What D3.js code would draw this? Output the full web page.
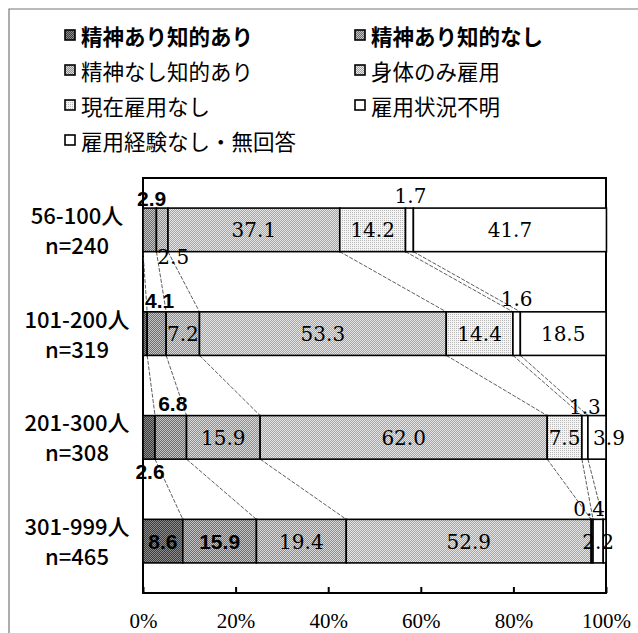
<!DOCTYPE html>
<html>
<head>
<meta charset="utf-8">
<script src="https://cdn.jsdelivr.net/npm/d3@7"></script>
<style>
  body { margin: 0; background: #fff; }
</style>
</head>
<body>
<svg id="chart" width="638" height="633"></svg>
<script>
// ---- data ----
const categories = ["56-100人", "101-200人", "201-300人", "301-999人"];
const sampleSizes = ["n=240", "n=319", "n=308", "n=465"];
const seriesNames = [
  "精神あり知的あり", "精神あり知的なし", "精神なし知的あり", "身体のみ雇用",
  "現在雇用なし", "雇用状況不明", "雇用経験なし・無回答"
];
const mentalAndIntellectual = [0.0, 0.9, 2.6, 8.6];
const mentalOnly            = [2.9, 4.1, 6.8, 15.9];
const intellectualOnly      = [2.5, 7.2, 15.9, 19.4];
const physicalOnly          = [37.1, 53.3, 62.0, 52.9];
const notCurrentlyEmployed  = [14.2, 14.4, 7.5, 0.4];
const statusUnknown         = [1.7, 1.6, 1.3, 2.2];
const neverEmployed         = [41.7, 18.5, 3.9, 0.6];
const tickValues = [0, 20, 40, 60, 80, 100];

const seriesValues = [mentalAndIntellectual, mentalOnly, intellectualOnly, physicalOnly,
                      notCurrentlyEmployed, statusUnknown, neverEmployed];

// ---- label placement per category row / series (null = no label) ----
const I = { pos: "in" };
const labelPlacement = [
  [null, { pos: "above", dx: 2, dy: -2 }, { pos: "below", dx: 11, dy: 12 }, I, I, { pos: "above", dx: 1, dy: -5 }, I],
  [null, { pos: "above", dx: 3, dy: -4 }, I, I, I, { pos: "above", dx: 0, dy: -6 }, I],
  [{ pos: "below", dx: 1, dy: 20 }, { pos: "above", dx: 2, dy: -5 }, I, I, I, { pos: "above", dx: 0, dy: -2 }, { pos: "in", dx: 12 }],
  [I, I, I, I, { pos: "above", dx: -3, dy: -3 }, I, null]
];
// the two mental-disability series use bold gothic labels
const sansSeries = new Set([0, 1]);

// ---- layout ----
const W = 638, H = 633;
const plot = { left: 143, right: 606, top: 178, bottom: 593 };

const svg = d3.select("#chart");
svg.append("rect").attr("width", W).attr("height", H).attr("fill", "#fff");

// fill textures
const defs = svg.append("defs");
const textures = [
  { id: "tx0", base: "#3c3c3c", dot: "#8c8c8c" },
  { id: "tx1", base: "#6e6e6e", dot: "#c4c4c4" },
  { id: "tx2", base: "#8e8e8e", dot: "#dadada" },
  { id: "tx3", base: "#a4a4a4", dot: "#e6e6e6" },
  { id: "tx4", base: "#f4f4f4", dot: "#b8b8b8", sparse: true },
  { id: "tx5", base: "#ffffff", dot: "#ffffff" },
  { id: "tx6", base: "#ffffff", dot: "#ffffff" }
];
textures.forEach(t => {
  const p = defs.append("pattern").attr("id", t.id)
    .attr("patternUnits", "userSpaceOnUse").attr("width", 2).attr("height", 2);
  p.append("rect").attr("width", 2).attr("height", 2).attr("fill", t.base);
  p.append("rect").attr("x", 0).attr("y", 0).attr("width", 1).attr("height", 1).attr("fill", t.dot);
  if (!t.sparse) p.append("rect").attr("x", 1).attr("y", 1).attr("width", 1).attr("height", 1).attr("fill", t.dot);
});
const fillFor = j => `url(#tx${j})`;

// outer frame
svg.append("path").attr("d", `M9,${H} V9 H${W}`)
  .attr("fill", "none").attr("stroke", "#777").attr("stroke-width", 1.2);

// ---- legend ----
const legendCols = [65, 355];
const legendRows = [35, 70, 105, 140];
const legendItems = [0, 1, 2, 3, 4, 5, 6].map(j => ({
  j, col: j === 6 ? 0 : j % 2, row: Math.floor(j / 2)
}));
const legend = svg.append("g").attr("class", "legend");
legendItems.forEach(it => {
  const x = legendCols[it.col], y = legendRows[it.row];
  legend.append("rect").attr("x", x).attr("y", y - 5).attr("width", 10).attr("height", 10)
    .attr("fill", fillFor(it.j)).attr("stroke", "#000").attr("stroke-width", 1.6);
  legend.append("text").attr("x", x + 16).attr("y", y)
    .attr("dominant-baseline", "central")
    .attr("font-family", "'Noto Sans CJK JP', sans-serif")
    .attr("font-size", 21.5)
    .attr("font-weight", it.row === 0 ? "bold" : "normal")
    .attr("fill", "#000")
    .text(seriesNames[it.j]);
});

// ---- scales ----
const x = d3.scaleLinear().domain([0, 100]).range([plot.left, plot.right]);
const y = d3.scaleBand().domain(categories).range([plot.top, plot.bottom])
  .paddingInner(0.58).paddingOuter(0.29);
const bw = y.bandwidth();

// ---- stacked data ----
const rows = categories.map((c, i) => {
  const r = { category: c };
  seriesNames.forEach((s, j) => { r[s] = seriesValues[j][i]; });
  return r;
});
const stacked = d3.stack().keys(seriesNames)(rows);

// ---- plot box ----
svg.append("rect").attr("x", plot.left).attr("y", plot.top)
  .attr("width", plot.right - plot.left).attr("height", plot.bottom - plot.top)
  .attr("fill", "none").attr("stroke", "#000").attr("stroke-width", 2);

// ---- series connector lines ----
const connectors = svg.append("g").attr("class", "series-lines");
for (let r = 0; r < categories.length - 1; r++) {
  for (let j = 0; j < seriesNames.length - 1; j++) {
    connectors.append("line")
      .attr("x1", x(stacked[j][r][1])).attr("y1", y(categories[r]) + bw)
      .attr("x2", x(stacked[j][r + 1][1])).attr("y2", y(categories[r + 1]))
      .attr("stroke", "#333").attr("stroke-width", 0.8)
      .attr("stroke-dasharray", "4,1.5");
  }
}

// ---- bars ----
const bars = svg.append("g").attr("class", "bars");
stacked.forEach((layer, j) => {
  bars.selectAll(null).data(layer).enter().append("rect")
    .attr("x", d => x(d[0]))
    .attr("y", d => y(d.data.category))
    .attr("width", d => x(d[1]) - x(d[0]))
    .attr("height", bw)
    .attr("fill", fillFor(j))
    .attr("stroke", "#000").attr("stroke-width", 1.6);
});

// ---- value labels ----
const labels = svg.append("g").attr("class", "value-labels");
stacked.forEach((layer, j) => {
  layer.forEach((d, r) => {
    const p = labelPlacement[r][j];
    if (!p) return;
    const top = y(d.data.category), bottom = top + bw;
    const cx = x((d[0] + d[1]) / 2) + (p.dx || 0);
    let by;
    if (p.pos === "above") by = top + p.dy;
    else if (p.pos === "below") by = bottom + p.dy;
    else by = top + bw / 2 + 7.5;
    const sans = sansSeries.has(j);
    labels.append("text")
      .attr("x", cx).attr("y", by)
      .attr("text-anchor", "middle")
      .attr("font-family", sans ? "'Liberation Sans', Arial, sans-serif" : "'DejaVu Serif', serif")
      .attr("font-weight", sans ? "bold" : "normal")
      .attr("font-size", sans ? 21 : 20)
      .attr("fill", "#000")
      .text(seriesValues[j][r].toFixed(1));
  });
});

// ---- category labels ----
const catLabels = svg.append("g").attr("class", "category-labels");
categories.forEach((c, i) => {
  const cy = y(c) + bw / 2;
  const t = catLabels.append("text")
    .attr("text-anchor", "middle")
    .attr("font-family", "'Noto Sans CJK JP', sans-serif")
    .attr("font-size", 22)
    .attr("font-weight", 500)
    .attr("fill", "#000");
  t.append("tspan").attr("x", 77).attr("y", cy - 6).text(c);
  t.append("tspan").attr("x", 77).attr("y", cy + 24).text(sampleSizes[i]);
});

// ---- x axis ----
const axis = d3.axisBottom(x)
  .tickValues(tickValues)
  .tickFormat(d => d + "%")
  .tickSizeInner(-6)
  .tickSizeOuter(0)
  .tickPadding(20);
const ax = svg.append("g").attr("transform", `translate(0,${plot.bottom})`).call(axis);
ax.select(".domain").remove();
ax.selectAll(".tick line").attr("stroke", "#000").attr("stroke-width", 2);
ax.selectAll(".tick text")
  .attr("font-family", "'Liberation Serif', serif")
  .attr("font-size", 21)
  .attr("fill", "#000");
</script>
</body>
</html>
